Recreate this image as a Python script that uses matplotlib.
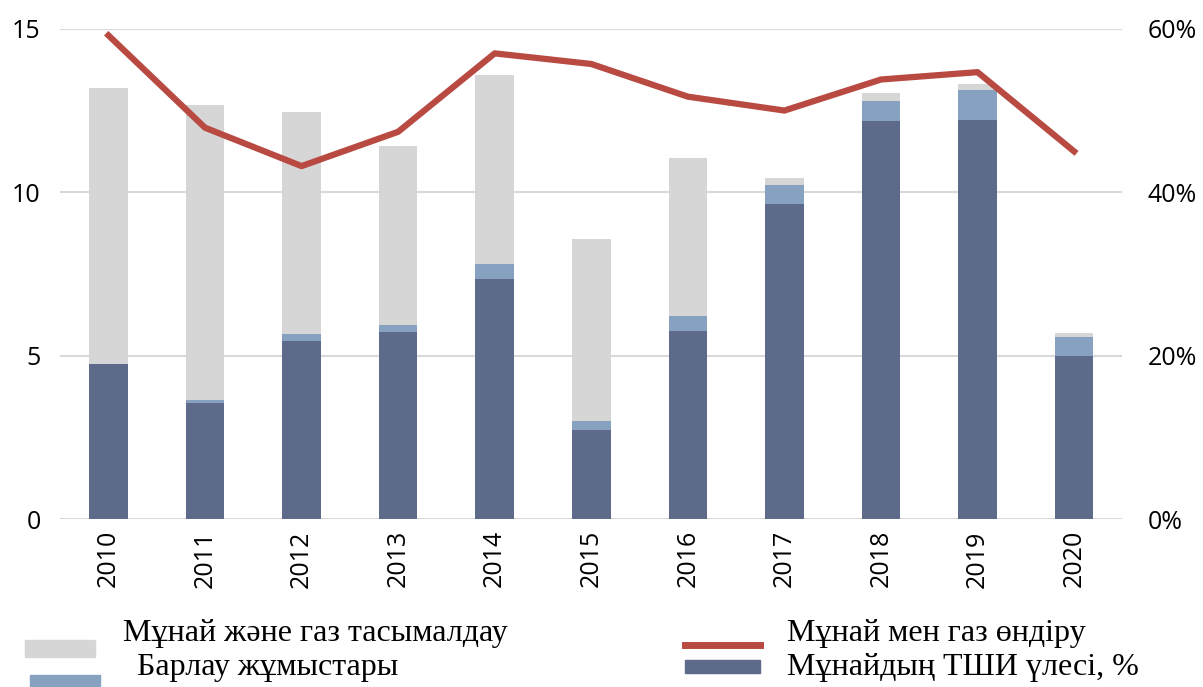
import matplotlib
matplotlib.use("Agg")
import numpy as np
from matplotlib import pyplot as plt
from matplotlib.patches import Rectangle
from matplotlib.lines import Line2D

years = ["2010", "2011", "2012", "2013", "2014", "2015", "2016", "2017", "2018", "2019", "2020"]
# stacked bar values (left axis)
tshi = [4.74, 3.55, 5.45, 5.72, 7.35, 2.72, 5.75, 9.64, 12.18, 12.21, 4.99]
barlau = [0.0, 0.09, 0.21, 0.22, 0.45, 0.28, 0.46, 0.58, 0.61, 0.92, 0.58]
tasymal = [8.45, 9.03, 6.80, 5.48, 5.79, 5.57, 4.84, 0.22, 0.25, 0.18, 0.12]
# line (right axis, %)
ondiru = [59.2, 47.9, 43.2, 47.4, 57.0, 55.7, 51.7, 50.0, 53.8, 54.7, 45.0]

c_dark = "#5E6A8A"
c_blue = "#87A2C0"
c_gray = "#D6D6D6"
c_red = "#B84A42"

fig = plt.figure(figsize=(12.03, 6.87), dpi=100)
ax = fig.add_axes([0.05, 0.2445, 0.883, 0.7135])
x = np.arange(len(years))
w = 0.4
b1 = np.array(tshi)
b2 = b1 + np.array(barlau)
ax.bar(x, tshi, w, color=c_dark, zorder=2)
ax.bar(x, barlau, w, bottom=b1, color=c_blue, zorder=2)
ax.bar(x, tasymal, w, bottom=b2, color=c_gray, zorder=2)

ax.set_xlim(-0.5, 10.5)
ax.set_ylim(0, 15)
ax.set_yticks([0, 5, 10, 15])
ax.yaxis.grid(True, color="#D9D9D9", linewidth=1.5, zorder=0)
ax.set_axisbelow(True)
for s in ax.spines.values():
    s.set_visible(False)
ax.tick_params(length=0)
ax.set_xticks(x)
ax.set_xticklabels(years, rotation=90, fontsize=18, family="Open Sans")
ax.tick_params(axis="x", pad=8)
ax.tick_params(axis="y", labelsize=18, pad=14)
for lab in ax.get_yticklabels():
    lab.set_family("Open Sans")

ax2 = ax.twinx()
ax2.set_ylim(0, 60)
ax2.set_yticks([0, 20, 40, 60])
ax2.set_yticklabels(["0%", "20%", "40%", "60%"], fontsize=18, family="Open Sans")
ax2.plot(x, ondiru, color=c_red, linewidth=4.5, zorder=3)
for s in ax2.spines.values():
    s.set_visible(False)
ax2.tick_params(length=0, pad=18)

# legend drawn by hand
def fx(px):
    return px / 1203

def fy(py):
    return 1 - py / 687

fig.patches.append(Rectangle((fx(25), fy(657)), fx(70), 17 / 687, color=c_gray, transform=fig.transFigure))
fig.patches.append(Rectangle((fx(30), fy(687)), fx(70), 12 / 687, color=c_blue, transform=fig.transFigure))
fig.lines.append(Line2D([fx(685), fx(760)], [fy(645), fy(645)], color=c_red, linewidth=5, transform=fig.transFigure))
fig.patches.append(Rectangle((fx(685), fy(673)), fx(75), 13 / 687, color=c_dark, transform=fig.transFigure))

lk = dict(fontsize=23, family="Liberation Serif", va="center")
fig.text(fx(123), fy(634), "Мұнай және газ тасымалдау", **lk)
fig.text(fx(137), fy(668), "Барлау жұмыстары", **lk)
fig.text(fx(787), fy(634), "Мұнай мен газ өндіру", **lk)
fig.text(fx(787), fy(668), "Мұнайдың ТШИ үлесі, %", **lk)

fig.savefig("out.png", dpi=100)
